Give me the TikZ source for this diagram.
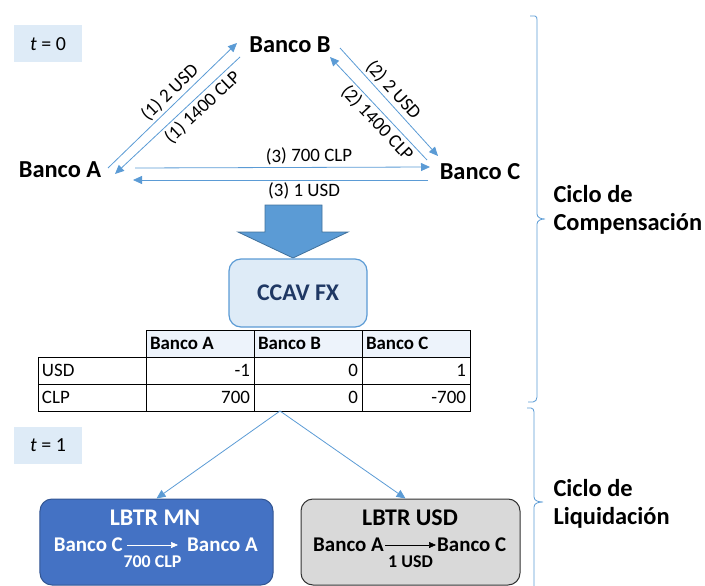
\documentclass[tikz,border=0pt]{standalone}
\usepackage{fontspec}
\setmainfont{Carlito}
\usetikzlibrary{arrows.meta}
\definecolor{azul}{HTML}{5B9BD5}
\definecolor{azulosc}{HTML}{41719C}
\definecolor{azulclaro}{HTML}{DEEBF7}
\definecolor{azulcelda}{HTML}{EDF3FB}
\definecolor{azulmn}{HTML}{4472C4}
\definecolor{marino}{HTML}{1F3864}
\definecolor{gris}{HTML}{D9D9D9}
\tikzset{
  flecha/.style={draw=azul, line width=0.8bp, -{Triangle[length=9bp,width=8bp]}},
  celda/.style={draw, line width=0.9bp, minimum height=27bp, text width=100bp, inner xsep=4bp, inner ysep=0pt, font=\fontsize{19}{22}\selectfont},
  tcaja/.style={fill=azulclaro, minimum width=68bp, minimum height=37bp, font=\fontsize{20}{24}\selectfont},
  lbtr/.style={rounded corners=12bp, line width=1bp, minimum height=86bp},
  ciclo/.style={anchor=west, align=flush left, font=\fontsize{24.5}{28}\selectfont\bfseries}
}
\newcommand{\banco}[3] {\node at (#1) (#2) [font=\fontsize{24.5}{28}\selectfont\bfseries] {#3};}
\newcommand{\flujo}[5] {\draw [flecha] (#1) -- (#2) node [pos=#4, sloped, #5, inner sep=2.5bp, font=\fontsize{19}{22}\selectfont] {#3};}
\newcommand{\celda}[4] {\node at (#1) (#2) [celda, #3] {#4};}
\newcommand{\pago}[4] {\draw [#4, line width=0.6bp, -{Triangle[length=7bp,width=6bp]}] (#1) -- (#2) node [midway, below=9bp, inner sep=1bp, font=\fontsize{18}{21}\selectfont\bfseries] {#3};}

\begin{document}
\begin{tikzpicture}[x=1bp, y=-1bp]
\useasboundingbox (0,0) rectangle (705,586);

\node at (48,44) (t0) [tcaja] {\textit{t} = 0};
\node at (48,445) (t1) [tcaja] {\textit{t} = 1};

\banco {60,170} {bA} {Banco A};
\banco {290,45} {bB} {Banco B};
\banco {480,172} {bC} {Banco C};

\flujo {[shift={(48,-2)}]bA.center} {[shift={(-53,-2)}]bB.center} {(1) 2 USD} {0.54} {above};
\flujo {[shift={(-50,12)}]bB.center} {[shift={(55,4)}]bA.center} {(1) 1400 CLP} {0.36} {below};
\flujo {[shift={(50,3)}]bB.center} {[shift={(-42,-16)}]bC.center} {(2) 2 USD} {0.46} {above};
\flujo {[shift={(-53,-12)}]bC.center} {[shift={(40,12)}]bB.center} {(2) 1400 CLP} {0.43} {below};
\flujo {[shift={(75,-2)}]bA.center} {[shift={(-50,-5)}]bC.center} {(3) 700 CLP} {0.59} {above};
\flujo {[shift={(-52,8)}]bC.center} {[shift={(73,10)}]bA.center} {(3) 1 USD} {0.42} {below};

\filldraw [fill=azul, draw=azulosc, line width=0.8bp] (265,205) -- (322,205) -- (322,232) -- (348,232) -- (293,258) -- (238,232) -- (265,232) -- cycle;

\node at (298,293) (ccav) [rounded corners=12bp, draw=azul, fill=azulclaro, line width=1.2bp, minimum width=138bp, minimum height=68bp, text=marino, font=\fontsize{24}{28}\selectfont\bfseries] {CCAV FX};

\celda {200,343.5} {cA0} {fill=azulcelda, align=flush left, font=\fontsize{19}{22}\selectfont\bfseries} {Banco A}
\celda {308,343.5} {cB0} {fill=azulcelda, align=flush left, font=\fontsize{19}{22}\selectfont\bfseries} {Banco B}
\celda {416,343.5} {cC0} {fill=azulcelda, align=flush left, font=\fontsize{19}{22}\selectfont\bfseries} {Banco C}
\celda {92,370.5} {usd} {align=flush left} {USD}
\celda {200,370.5} {cA1} {align=flush right} {-1}
\celda {308,370.5} {cB1} {align=flush right} {0}
\celda {416,370.5} {cC1} {align=flush right} {1}
\celda {92,397.5} {clp} {align=flush left} {CLP}
\celda {200,397.5} {cA2} {align=flush right} {700}
\celda {308,397.5} {cB2} {align=flush right} {0}
\celda {416,397.5} {cC2} {align=flush right} {-700}

\node at (156.5,542) (lbtrmn) [lbtr, fill=azulmn, draw=azulmn!75!black, minimum width=233bp] {};
\node at (410.5,542) (lbtrusd) [lbtr, fill=gris, draw=black!80, minimum width=219bp] {};

\coordinate (reparto) at (280,411);
\draw [flecha] (reparto) -- (lbtrmn.north);
\draw [flecha] (reparto) -- ([xshift=-5bp]lbtrusd.north);

\node at (155,518) (mntit) [text=white, font=\fontsize{24}{28}\selectfont\bfseries] {LBTR MN};
\node at (124,545) (mnde) [anchor=east, inner sep=1bp, text=white, font=\fontsize{21}{25}\selectfont\bfseries] {Banco C};
\node at (186,545) (mna) [anchor=west, inner sep=1bp, text=white, font=\fontsize{21}{25}\selectfont\bfseries] {Banco A};
\pago {[xshift=3bp]mnde.east} {[xshift=-8bp]mna.west} {\textcolor{white}{700 CLP}} {white};

\node at (410,518) (usdtit) [font=\fontsize{24}{28}\selectfont\bfseries] {LBTR USD};
\node at (385,545) (usdde) [anchor=east, inner sep=1bp, font=\fontsize{21}{25}\selectfont\bfseries] {Banco A};
\node at (436,545) (usda) [anchor=west, inner sep=1bp, font=\fontsize{21}{25}\selectfont\bfseries] {Banco C};
\pago {usdde} {usda} {1 USD} {black};

\draw [azul, line width=0.8bp] (530,16) -- (535,16) to[out=0,in=90] (537,20) -- (537,214) to[out=-90,in=180] (545,219) to[out=180,in=90] (537,224) -- (537,397) to[out=-90,in=0] (533,402) -- (528,402);
\draw [azul, line width=0.8bp] (527,408) -- (531,408) to[out=0,in=90] (534,412) -- (534,497) to[out=-90,in=180] (543,502) to[out=180,in=90] (534,507) -- (534,600);

\node at (550,210) (compens) [ciclo] {Ciclo de\\Compensación};
\node at (550,504) (liquid) [ciclo] {Ciclo de\\Liquidación};
\end{tikzpicture}
\end{document}
